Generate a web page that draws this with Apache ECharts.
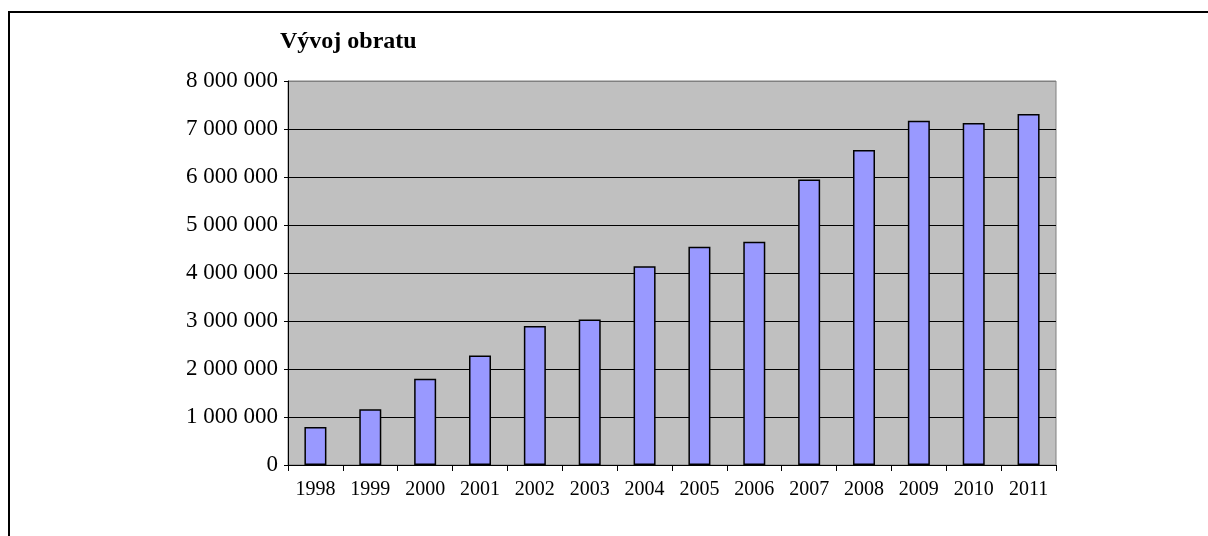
<!DOCTYPE html>
<html>
<head>
<meta charset="utf-8">
<script src="https://cdn.jsdelivr.net/npm/echarts@6/dist/echarts.min.js"></script>
<style>
  html, body { margin: 0; padding: 0; background: #fff; overflow: hidden; }
  #frame { position: absolute; left: 8px; top: 11px; width: 1300px; height: 700px; border: 2px solid #000; box-sizing: border-box; }
  #chart { position: absolute; left: 0; top: 0; width: 1208px; height: 536px; }
</style>
</head>
<body>
<div id="frame"></div>
<div id="chart"></div>
<script>
const title = 'Vývoj obratu';
const years = ['1998','1999','2000','2001','2002','2003','2004','2005','2006','2007','2008','2009','2010','2011'];
const turnover = [790000, 1160000, 1795000, 2280000, 2895000, 3030000, 4140000, 4545000, 4650000, 5950000, 6560000, 7170000, 7125000, 7310000];
const yMax = 8000000;
const yStep = 1000000;

function fmt(v) {
  return String(Math.round(v)).replace(/\B(?=(\d{3})+(?!\d))/g, ' ');
}

const chart = echarts.init(document.getElementById('chart'), null, { renderer: 'canvas' });
chart.setOption({
  animation: false,
  backgroundColor: 'transparent',
  title: {
    text: title,
    left: 275,
    top: 25,
    textStyle: { fontFamily: 'Liberation Serif', fontWeight: 'bold', fontSize: 24, color: '#000' }
  },
  grid: {
    left: 288, right: 152, top: 81, bottom: 71,
    show: true, backgroundColor: '#c0c0c0', borderColor: '#808080', borderWidth: 1
  },
  xAxis: {
    type: 'category',
    data: years,
    boundaryGap: true,
    axisLine: { lineStyle: { color: '#000', width: 1 } },
    axisTick: { show: true, alignWithLabel: false, length: 6, lineStyle: { color: '#000' } },
    axisLabel: { fontFamily: 'Liberation Serif', fontSize: 20, color: '#000', margin: 15, interval: 0 },
    splitLine: { show: false }
  },
  yAxis: {
    type: 'value',
    min: 0, max: yMax, interval: yStep,
    axisLine: { show: true, lineStyle: { color: '#000', width: 1 } },
    axisTick: { show: true, length: 4, lineStyle: { color: '#000' } },
    axisLabel: { fontFamily: 'Liberation Serif', fontSize: 23, color: '#000', margin: 10, formatter: fmt },
    splitLine: { show: true, lineStyle: { color: ['#000','#000','#000','#000','#000','#000','#000','#000','#808080'], width: 1 } }
  },
  series: [{
    type: 'bar',
    data: turnover,
    barWidth: 22,
    itemStyle: { color: '#9999ff', borderColor: '#000', borderWidth: 1.5 }
  }]
});
</script>
</body>
</html>
